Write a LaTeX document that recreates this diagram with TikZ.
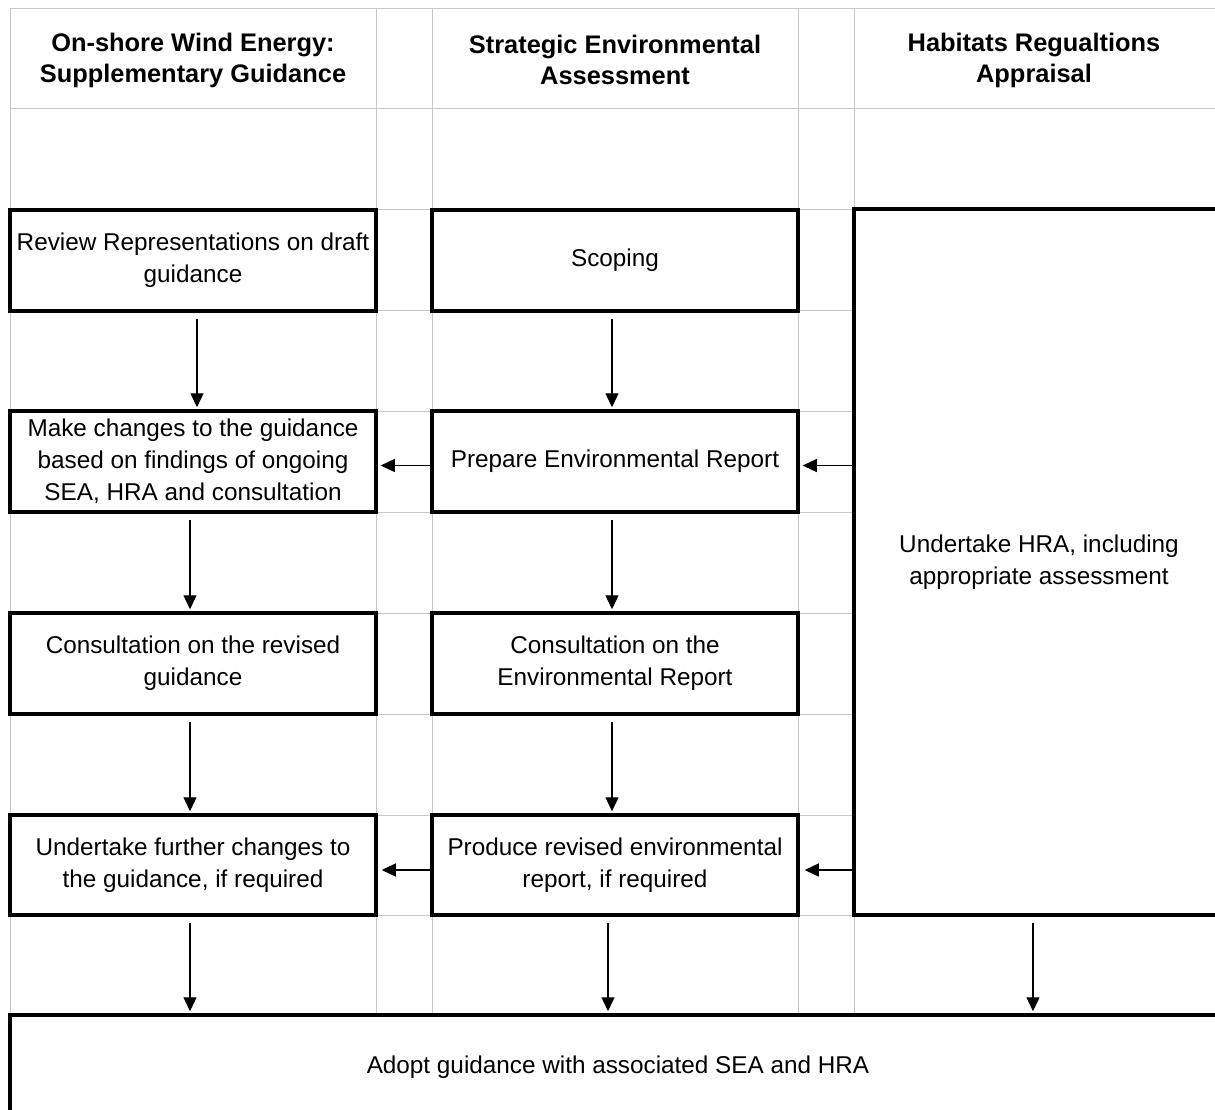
\documentclass[tikz,border=0pt]{standalone}
\usepackage{fontspec}
\setmainfont{Liberation Sans}
\usetikzlibrary{arrows.meta}
\begin{document}
\begin{tikzpicture}[x=1pt,y=-1pt,
  grid/.style={draw=black!22, line width=1pt},
  box/.style={draw=black, line width=3.5pt, fill=white, inner sep=0pt, align=center,
     font=\fontsize{24.3}{32}\selectfont},
  head/.style={inner sep=0pt, align=center, font=\fontsize{25.4}{31}\selectfont\bfseries},
  arr/.style={-{Triangle[length=14pt,width=13pt]}, line width=1.3pt, shorten >=2pt}
]
\useasboundingbox (0,0) rectangle (1215,1109);
\fill[white] (0,0) rectangle (1215,1109);
\clip (0,0) rectangle (1215,1109);
% grid
\foreach \yy in {8,108,209,310,411,512,613,714,815,915,1015}
  \draw[grid] (10,\yy) -- (1215,\yy);
\foreach \xx in {10,376,432,798,854}
  \draw[grid] (\xx,8) -- (\xx,1015);
% headers
\node[head] (h1) at (193,60) {On-shore Wind Energy:\\Supplementary Guidance};
\node[head] (h2) at (615,60) {Strategic Environmental\\Assessment};
\node[head] (h3) at (1034,60) {Habitats Regualtions\\Appraisal};
% column 1
\node[box, minimum width=366pt, minimum height=101pt] (a1) at (193,260.5) {Review Representations on draft\\guidance};
\node[box, minimum width=366pt, minimum height=101pt] (a2) at (193,461.5) {Make changes to the guidance\\based on findings of ongoing\\SEA, HRA and consultation};
\node[box, minimum width=366pt, minimum height=101pt] (a3) at (193,663.5) {Consultation on the revised\\guidance};
\node[box, minimum width=366pt, minimum height=100pt] (a4) at (193,865) {Undertake further changes to\\the guidance, if required};
% column 2
\node[box, minimum width=366pt, minimum height=101pt] (b1) at (615,260.5) {Scoping};
\node[box, minimum width=366pt, minimum height=101pt] (b2) at (615,461.5) {Prepare Environmental Report};
\node[box, minimum width=366pt, minimum height=101pt] (b3) at (615,663.5) {Consultation on the\\Environmental Report};
\node[box, minimum width=366pt, minimum height=100pt] (b4) at (615,865) {Produce revised environmental\\report, if required};
% column 3 (open to the right)
\node[box, minimum width=370pt, minimum height=706pt] (c1) at (1039,562) {Undertake HRA, including\\appropriate assessment};
% bottom (open to the right and below)
\node[box, minimum width=1216pt, minimum height=104pt] (d) at (618,1067) {Adopt guidance with associated SEA and HRA};
% vertical arrows
\draw[arr, shorten <=6pt] ([xshift=4pt]a1.south) -- ([xshift=4pt]a2.north);
\draw[arr, shorten <=6pt] ([xshift=-3pt]a2.south) -- ([xshift=-3pt]a3.north);
\draw[arr, shorten <=6pt] ([xshift=-3pt]a3.south) -- ([xshift=-3pt]a4.north);
\draw[arr, shorten <=6pt] ([xshift=-3pt]a4.south) -- ([xshift=-3pt]a4.south |- d.north);
\draw[arr, shorten <=6pt] ([xshift=-3pt]b1.south) -- ([xshift=-3pt]b2.north);
\draw[arr, shorten <=6pt] ([xshift=-3pt]b2.south) -- ([xshift=-3pt]b3.north);
\draw[arr, shorten <=6pt] ([xshift=-3pt]b3.south) -- ([xshift=-3pt]b4.north);
\draw[arr, shorten <=6pt] ([xshift=-7pt]b4.south) -- ([xshift=-7pt]b4.south |- d.north);
\draw[arr, shorten <=6pt] ([xshift=-6pt]c1.south) -- ([xshift=-6pt]c1.south |- d.north);
% horizontal arrows
\draw[arr, shorten >=3pt] ([yshift=-4pt]c1.west |- b2.east) -- ([yshift=-4pt]b2.east);
\draw[arr, shorten >=3pt] ([yshift=-4pt]b2.west) -- ([yshift=-4pt]a2.east);
\draw[arr, shorten >=5pt] ([yshift=-5pt]c1.west |- b4.east) -- ([yshift=-5pt]b4.east);
\draw[arr, shorten >=4pt] ([yshift=-5pt]b4.west) -- ([yshift=-5pt]a4.east);
\end{tikzpicture}
\end{document}
